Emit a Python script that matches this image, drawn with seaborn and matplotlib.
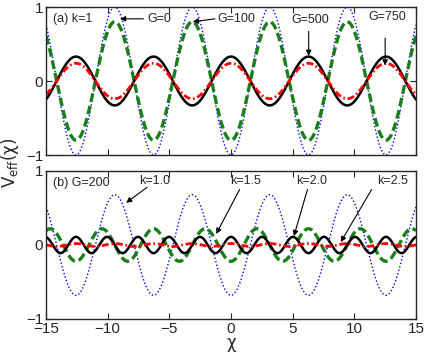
import numpy as np
import pandas as pd
import matplotlib
matplotlib.use("Agg")
import matplotlib.pyplot as plt
import seaborn as sns

# values (amplitude, wavenumber, sign of cosine)
chi = np.linspace(-15, 15, 1201)

# panel (a): k=1, different G
a_labels = ['G=0', 'G=100', 'G=500', 'G=750']
a_amp = [-1.0, -0.8, 0.33, 0.24]
a_k = [1.0, 1.0, 1.0, 1.0]

# panel (b): G=200, different k
b_labels = ['k=1.0', 'k=1.5', 'k=2.5', 'k=2.0']
b_amp = [-0.68, -0.22, 0.11, 0.02]
b_k = [1.0, 1.5, 2.5, 2.0]

colors = ['blue', '#1a7f1a', 'black', 'red']
widths = [1.0, 2.4, 1.8, 2.0]
dashes = [(1, 1.6), (2.6, 1.2), '', (2.5, 1, 0.6, 1)]

sns.set_style("ticks")
plt.rcParams['font.family'] = ['Liberation Sans', 'DejaVu Sans']
plt.rcParams['xtick.direction'] = 'in'
plt.rcParams['ytick.direction'] = 'in'
plt.rcParams['axes.linewidth'] = 1.0

fig = plt.figure(figsize=(4.28, 3.52), dpi=100)
ax_a = fig.add_axes([46 / 428, 1 - 155 / 352, 370 / 428, 148 / 352])
ax_b = fig.add_axes([46 / 428, 1 - 319 / 352, 370 / 428, 148 / 352])


def draw(ax, amps, ks):
    for j, (A, k) in enumerate(zip(amps, ks)):
        df = pd.DataFrame({'chi': chi, 'V': A * np.cos(k * chi)})
        sns.lineplot(data=df, x='chi', y='V', ax=ax, color=colors[j], lw=widths[j])
        if dashes[j]:
            ax.lines[-1].set_dashes(dashes[j])


draw(ax_a, a_amp, a_k)
draw(ax_b, b_amp, b_k)

for ax in (ax_a, ax_b):
    ax.set_xlim(-15, 15)
    ax.set_ylim(-1, 1)
    ax.set_xticks([-15, -10, -5, 0, 5, 10, 15])
    ax.set_yticks([-1, 0, 1])
    ax.tick_params(top=True, right=True, labelsize=11, length=4, width=0.8, pad=2)
    ax.set_xlabel('')
    ax.set_ylabel('')
ax_a.set_xticklabels([])
ax_b.set_xlabel('χ', fontsize=12, labelpad=-1, family=['DejaVu Sans'])

fig.text(10 / 428, 1 - 163 / 352, r'V$_{\mathrm{eff}}$(χ)', rotation=90,
         ha='center', va='center', fontsize=12, family=['DejaVu Sans'])

arrow = dict(arrowstyle='-|>', color='black', lw=0.8, mutation_scale=8,
             shrinkA=0, shrinkB=0)
fs = 9


def label(ax, text, tx, ty, tail, tip, ha='center'):
    ax.text(tx, ty, text, fontsize=fs, ha=ha, va='center')
    ax.annotate('', xy=tip, xytext=tail, arrowprops=arrow)


ax_a.text(-14.4, 0.84, '(a) k=1', fontsize=fs, va='center')
label(ax_a, 'G=0', -6.8, 0.84, (-7.1, 0.84), (-9.0, 0.84), ha='left')
label(ax_a, 'G=100', -1.1, 0.84, (-1.3, 0.84), (-3.1, 0.80), ha='left')
label(ax_a, 'G=500', 6.4, 0.82, (6.3, 0.67), (6.3, 0.34))
label(ax_a, 'G=750', 12.65, 0.86, (12.5, 0.58), (12.5, 0.21))

ax_b.text(-14.4, 0.84, '(b) G=200', fontsize=fs, va='center')
label(ax_b, 'k=1.0', -6.2, 0.87, (-6.8, 0.78), (-8.5, 0.57))
label(ax_b, 'k=1.5', 1.2, 0.86, (0.7, 0.75), (-1.2, 0.15))
label(ax_b, 'k=2.0', 6.5, 0.86, (6.2, 0.75), (5.1, 0.12))
label(ax_b, 'k=2.5', 13.1, 0.87, (11.4, 0.75), (8.9, 0.04))

fig.savefig('out.png', dpi=100)
